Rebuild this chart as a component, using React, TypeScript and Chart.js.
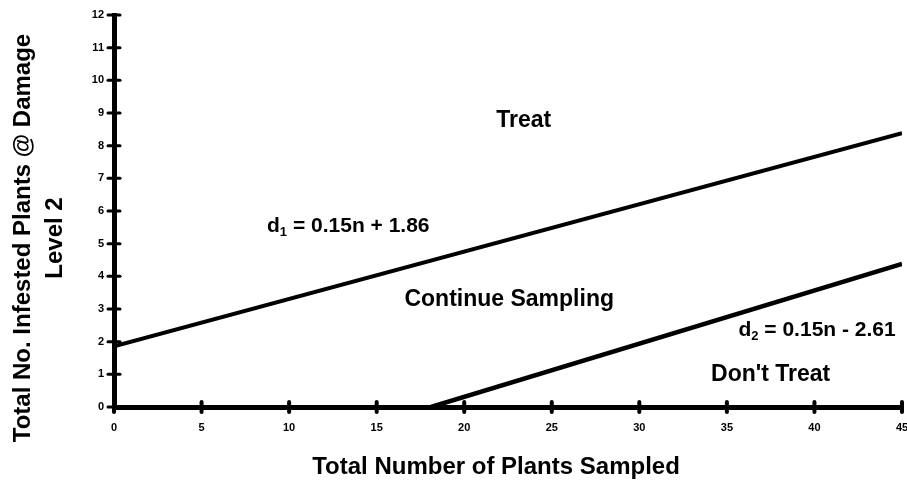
import React, { useEffect, useRef } from "react";
import { Chart, registerables } from "chart.js";

Chart.register(...registerables);

const xTicks = [0, 5, 10, 15, 20, 25, 30, 35, 40, 45];
const yTicks = [0, 1, 2, 3, 4, 5, 6, 7, 8, 9, 10, 11, 12];

const d1X = [0, 45];
const d1Y = [1.86, 8.38];
const d2X = [18.1, 45];
const d2Y = [0, 4.38];

const labelTexts = ["Treat", "Continue Sampling", "Don't Treat"];
const labelX = [23.4, 22.57, 37.5];
const labelY = [8.78, 3.28, 0.99];

const eqMain = ["d", "d"];
const eqSub = ["1", "2"];
const eqRest = [" = 0.15n + 1.86", " = 0.15n - 2.61"];
const eqX = [8.74, 35.66];
const eqY = [5.52, 2.34];

const xTitle = "Total Number of Plants Sampled";
const yTitleLines = ["Total No. Infested Plants @ Damage", "Level 2"];

const FONT = "'Liberation Sans', Arial, sans-serif";

const overlay = {
  id: "overlay",
  afterDraw(chart: any) {
    const ctx = chart.ctx;
    const xs = chart.scales.x;
    const ys = chart.scales.y;
    const area = chart.chartArea;
    ctx.save();
    // tick marks crossing the axes
    ctx.strokeStyle = "#000";
    ctx.lineCap = "round";
    ctx.lineWidth = 4;
    xTicks.forEach((v) => {
      const px = xs.getPixelForValue(v);
      ctx.beginPath();
      ctx.moveTo(px, area.bottom - 5);
      ctx.lineTo(px, area.bottom + 5);
      ctx.stroke();
    });
    ctx.lineWidth = 3;
    yTicks.forEach((v) => {
      const py = ys.getPixelForValue(v);
      ctx.beginPath();
      ctx.moveTo(area.left - 6, py);
      ctx.lineTo(area.left + 6, py);
      ctx.stroke();
    });

    ctx.fillStyle = "#000";
    // region labels
    ctx.font = `bold 23px ${FONT}`;
    ctx.textAlign = "center";
    ctx.textBaseline = "middle";
    labelTexts.forEach((t, i) => {
      ctx.fillText(t, xs.getPixelForValue(labelX[i]), ys.getPixelForValue(labelY[i]));
    });

    // equations
    ctx.textAlign = "left";
    eqMain.forEach((m, i) => {
      let x = xs.getPixelForValue(eqX[i]);
      const y = ys.getPixelForValue(eqY[i]);
      ctx.font = `bold 21px ${FONT}`;
      ctx.fillText(m, x, y);
      x += ctx.measureText(m).width;
      ctx.font = `bold 13px ${FONT}`;
      ctx.fillText(eqSub[i], x, y + 6);
      x += ctx.measureText(eqSub[i]).width;
      ctx.font = `bold 21px ${FONT}`;
      ctx.fillText(eqRest[i], x, y);
    });

    // axis titles
    ctx.font = `bold 24px ${FONT}`;
    ctx.textAlign = "center";
    ctx.fillText(xTitle, 496, 467);
    ctx.save();
    ctx.translate(0, 238);
    ctx.rotate(-Math.PI / 2);
    ctx.fillText(yTitleLines[0], 0, 23);
    ctx.fillText(yTitleLines[1], 0, 55);
    ctx.restore();
    ctx.restore();
  },
};

export default function App() {
  const ref = useRef<HTMLCanvasElement>(null);
  useEffect(() => {
    document.body.style.margin = "0";
    const chart = new Chart(ref.current!, {
      type: "scatter",
      data: {
        datasets: [
          {
            label: "d1",
            data: d1X.map((x, i) => ({ x, y: d1Y[i] })),
            showLine: true,
            borderColor: "#000",
            borderWidth: 4,
            pointRadius: 0,
          },
          {
            label: "d2",
            data: d2X.map((x, i) => ({ x, y: d2Y[i] })),
            showLine: true,
            borderColor: "#000",
            borderWidth: 4.5,
            pointRadius: 0,
          },
        ],
      },
      options: {
        responsive: false,
        animation: false,
        layout: { padding: { top: 15, right: 5, left: 0, bottom: 0 } },
        plugins: { legend: { display: false }, tooltip: { enabled: false } },
        scales: {
          x: {
            type: "linear",
            min: 0,
            max: 45,
            afterBuildTicks: (s: any) => {
              s.ticks = xTicks.map((v) => ({ value: v }));
            },
            afterFit: (s: any) => {
              s.height = 73;
              s.paddingLeft = 0;
              s.paddingRight = 0;
            },
            grid: { display: true, drawOnChartArea: false, drawTicks: false },
            border: { display: true, color: "#000", width: 5 },
            ticks: {
              padding: 14,
              color: "#000",
              maxRotation: 0,
              autoSkip: false,
              font: { family: FONT, size: 11, weight: "bold" },
            },
          },
          y: {
            type: "linear",
            min: 0,
            max: 12,
            afterBuildTicks: (s: any) => {
              s.ticks = yTicks.map((v) => ({ value: v }));
            },
            afterFit: (s: any) => {
              s.width = 114;
              s.paddingTop = 0;
              s.paddingBottom = 0;
            },
            grid: { display: true, drawOnChartArea: false, drawTicks: false },
            border: { display: true, color: "#000", width: 5 },
            ticks: {
              padding: 10,
              color: "#000",
              autoSkip: false,
              font: { family: FONT, size: 11, weight: "bold" },
            },
          },
        },
      },
      plugins: [overlay],
    } as any);
    return () => chart.destroy();
  }, []);
  return <canvas ref={ref} width={907} height={480} />;
}
